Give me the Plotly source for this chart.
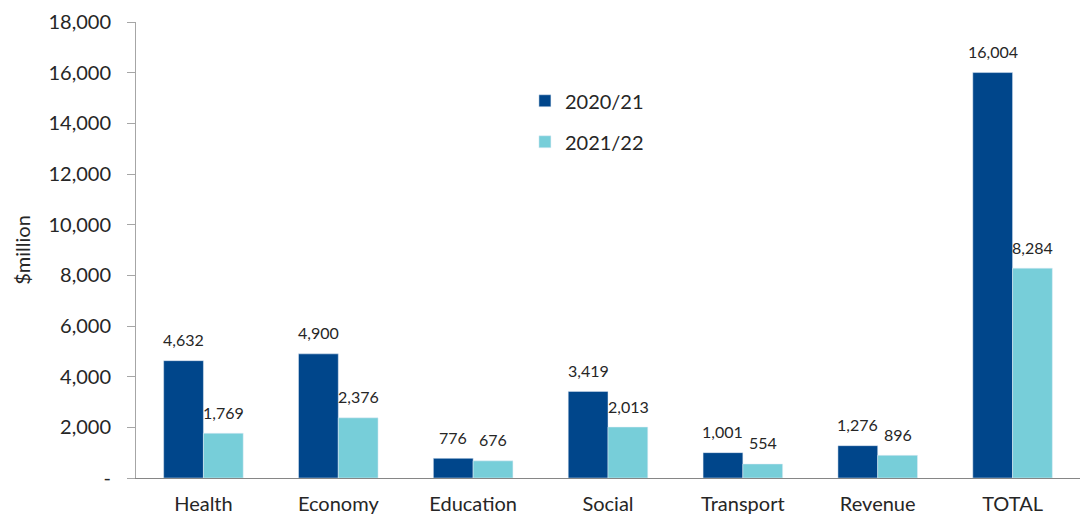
import plotly.graph_objects as go

categories = ["Health", "Economy", "Education", "Social", "Transport", "Revenue", "TOTAL"]
values_2020_21 = [4632, 4900, 776, 3419, 1001, 1276, 16004]
values_2021_22 = [1769, 2376, 676, 2013, 554, 896, 8284]
series_names = ["2020/21", "2021/22"]
tick_values = [0, 2000, 4000, 6000, 8000, 10000, 12000, 14000, 16000, 18000]
tick_labels = ["-", "2,000", "4,000", "6,000", "8,000", "10,000", "12,000", "14,000", "16,000", "18,000"]

dark_blue = "#00468B"
light_cyan = "#77CED9"
font_family = "Lato, 'Open Sans', sans-serif"
text_color = "#262626"

fig = go.Figure()
fig.add_trace(go.Bar(x=categories, y=values_2020_21, name=series_names[0],
                     marker_color=dark_blue, legendgroup="a"))
fig.add_trace(go.Bar(x=categories, y=values_2021_22, name=series_names[1],
                     marker_color=light_cyan, legendgroup="b"))

# Value labels above each bar, shifted onto their own bar within the group
for vals, shift in ((values_2020_21, -20), (values_2021_22, 20)):
    for cat, v in zip(categories, vals):
        fig.add_annotation(x=cat, y=v, text=f"{v:,}", showarrow=False,
                           xshift=shift, yshift=21, xref="x", yref="y",
                           font=dict(family=font_family, size=16, color=text_color))

fig.update_layout(
    width=1091, height=518,
    margin=dict(l=136, r=11, t=22, b=40),
    paper_bgcolor="white", plot_bgcolor="white",
    barmode="group", bargap=0.41, bargroupgap=0,
    font=dict(family=font_family, size=20, color=text_color),
    legend=dict(x=0.412, y=0.87, xanchor="left", yanchor="top",
                font=dict(size=20), tracegroupgap=12, bgcolor="rgba(0,0,0,0)"),
    xaxis=dict(showline=True, linecolor="#868686", linewidth=1,
               ticks="outside", ticklen=8, tickcolor="rgba(0,0,0,0)",
               tickfont=dict(size=20), showgrid=False, automargin=False),
    yaxis=dict(range=[0, 18000], tickvals=tick_values, ticktext=tick_labels,
               showline=True, linecolor="#A6A6A6", linewidth=1,
               ticks="outside", ticklen=8, tickcolor="#A6A6A6",
               ticklabelstandoff=12, automargin=False,
               showgrid=False, zeroline=False, tickfont=dict(size=20),
               title=dict(text="$million", font=dict(size=20), standoff=12)),
)

fig.write_html("out.html")
